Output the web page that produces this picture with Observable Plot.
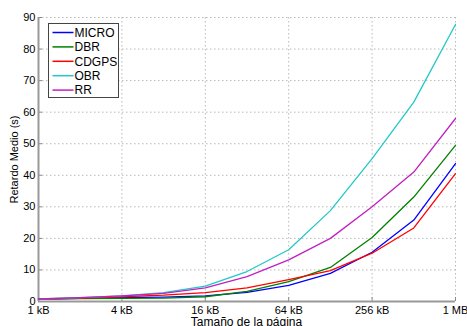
<!DOCTYPE html>
<html>
<head>
<meta charset="utf-8">
<script src="https://cdn.jsdelivr.net/npm/d3@7"></script>
<script src="https://cdn.jsdelivr.net/npm/@observablehq/plot@0.6"></script>
<style>
  html, body { margin: 0; padding: 0; background: #fff; }
  #wrap { position: relative; width: 467px; height: 326px; overflow: hidden; }
</style>
</head>
<body>
<div id="wrap"></div>
<script>
const sizes = [1, 2, 4, 8, 16, 32, 64, 128, 256, 512, 1024];
const seriesNames = ["MICRO", "DBR", "CDGPS", "OBR", "RR"];
const micro = [0.8, 1.0, 1.2, 1.4, 1.8, 2.9, 5.1, 8.9, 15.6, 25.8, 43.7];
const dbr   = [0.8, 0.9, 1.0, 1.1, 1.5, 3.2, 6.3, 10.8, 20.3, 33.1, 49.5];
const cdgps = [0.8, 1.1, 1.5, 2.0, 2.8, 4.3, 6.9, 9.8, 15.3, 23.3, 40.5];
const obr   = [0.8, 1.2, 1.8, 2.8, 4.9, 9.5, 16.4, 28.8, 45.3, 63.2, 87.8];
const rr    = [0.8, 1.2, 1.8, 2.6, 4.3, 7.9, 13.2, 20.0, 30.0, 41.0, 58.0];
const colors = ["#0000ff", "#008000", "#ff0000", "#22c8c8", "#c020c0"];
const xTicks = [1, 4, 16, 64, 256, 1024];
const xTickLabels = ["1 kB", "4 kB", "16 kB", "64 kB", "256 kB", "1 MB"];
const yTicks = [0, 10, 20, 30, 40, 50, 60, 70, 80, 90];

const allSeries = [micro, dbr, cdgps, obr, rr];
const rows = [];
allSeries.forEach((vals, si) => vals.forEach((v, i) => rows.push({serie: seriesNames[si], size: sizes[i], value: v})));

const font = "'Liberation Sans', Arial, sans-serif";
const gridColor = "#b8b8b8";
const chart = Plot.plot({
  width: 467,
  height: 326,
  marginLeft: 38,
  marginRight: 12,
  marginTop: 17,
  marginBottom: 25,
  style: {fontFamily: font, fontSize: "11px", background: "#fff", color: "#000", overflow: "visible"},
  x: {type: "log", base: 2, domain: [1, 1024], ticks: xTicks, tickFormat: d => xTickLabels[xTicks.indexOf(d)], label: null},
  y: {domain: [0, 90], ticks: yTicks, label: null},
  color: {domain: seriesNames, range: colors},
  marks: [
    Plot.ruleX(xTicks, {stroke: gridColor, strokeDasharray: "1.5,2.5", strokeWidth: 1}),
    Plot.ruleY(yTicks, {stroke: gridColor, strokeDasharray: "1.5,2.5", strokeWidth: 1}),
    Plot.axisX({ticks: xTicks, tickFormat: d => xTickLabels[xTicks.indexOf(d)], tickSize: -4, tickPadding: 9, stroke: "#888", fontSize: 11, label: null}),
    Plot.axisY({ticks: yTicks, tickSize: -4, tickPadding: 7, stroke: "#888", fontSize: 11, label: "Retardo Medio (s)", labelAnchor: "center", labelOffset: 28, labelArrow: "none"}),
    Plot.ruleX([1], {stroke: "#999", strokeWidth: 2}),
    Plot.ruleY([0], {stroke: "#999", strokeWidth: 2}),
    Plot.line(rows, {x: "size", y: "value", z: "serie", stroke: "serie", strokeWidth: 1.3})
  ]
});
document.getElementById("wrap").appendChild(chart);

const svg = d3.select(chart);
// x-axis title, partially cut at the bottom edge as in the reference
svg.append("text")
  .attr("x", (38 + 455) / 2).attr("y", 326)
  .attr("text-anchor", "middle")
  .attr("font-family", font).attr("font-size", 12).attr("fill", "#000")
  .text("Tamaño de la página");

// legend
const lg = svg.append("g").attr("transform", "translate(48.5,23.5)").attr("text-anchor", "start");
lg.append("rect").attr("width", 70).attr("height", 74).attr("fill", "#fff").attr("stroke", "#444").attr("stroke-width", 1);
seriesNames.forEach((n, i) => {
  const yy = 9 + i * 14.4;
  lg.append("line").attr("x1", 4).attr("x2", 25).attr("y1", yy).attr("y2", yy).attr("stroke", colors[i]).attr("stroke-width", 1.5);
  lg.append("text").attr("x", 26).attr("y", yy).attr("dy", "0.36em").attr("text-anchor", "start")
    .attr("font-family", font).attr("font-size", 12).attr("fill", "#000").text(n);
});
</script>
</body>
</html>
